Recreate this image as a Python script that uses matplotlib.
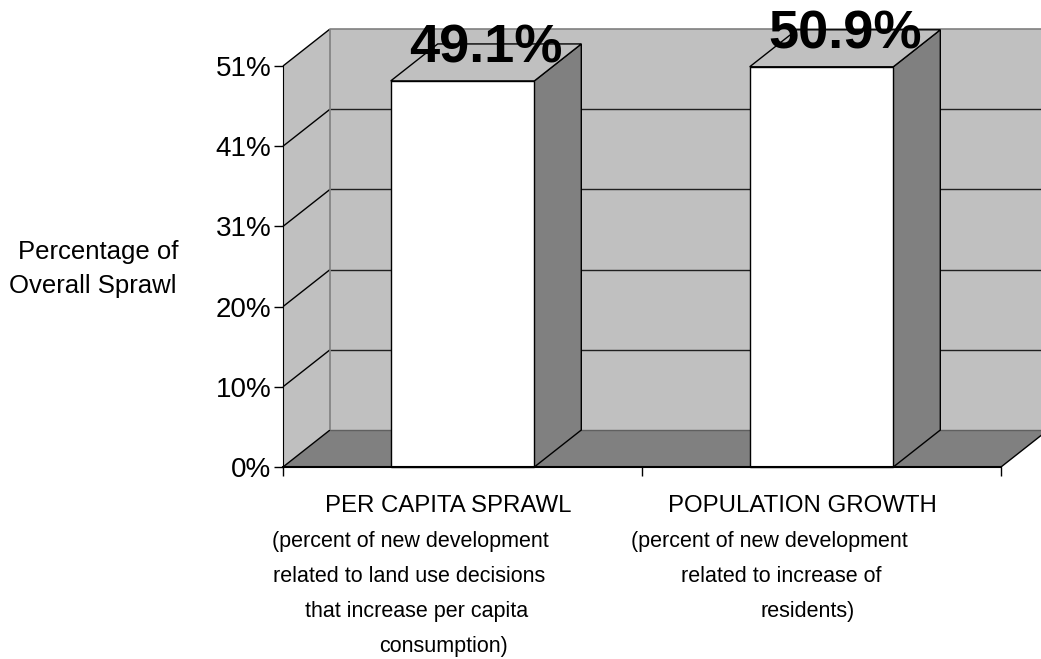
import matplotlib
matplotlib.use("Agg")
import matplotlib.pyplot as plt
from matplotlib.patches import Polygon, Rectangle
from matplotlib import font_manager

# ---- chart data -------------------------------------------------------------
categories = ["PER CAPITA SPRAWL", "POPULATION GROWTH"]
category_notes = [
    ["(percent of new development", "related to land use decisions",
     "that increase per capita", "consumption)"],
    ["(percent of new development", "related to increase of", "residents)"],
]
shares = [0.491, 0.509]
value_labels = ["49.1%", "50.9%"]
y_ticks = [0.0, 0.102, 0.204, 0.306, 0.408, 0.51]
y_tick_labels = ["0%", "10%", "20%", "31%", "41%", "51%"]
y_title_lines = ["Percentage of", "Overall Sprawl"]

# ---- fonts --------------------------------------------------------------------
installed = {f.name for f in font_manager.fontManager.ttflist}
plt.rcParams["font.family"] = ["Liberation Sans", "DejaVu Sans"]
if "Liberation Sans Narrow" in installed:
    note_font = dict(family=["Liberation Sans Narrow", "Liberation Sans"], fontsize=17)
else:
    note_font = dict(family=["Liberation Sans", "DejaVu Sans"], fontsize=15.5)

# ---- colours ------------------------------------------------------------------
WALL = "#c0c0c0"
FLOOR = "#808080"
EDGE = "#808080"

W, H = 1041, 659
fig = plt.figure(figsize=(W / 100, H / 100), dpi=100)
fig.patch.set_facecolor("white")


def fpos(x, y):
    """Pixel position (origin top-left) to figure fraction."""
    return x / W, 1 - y / H


ax = fig.add_axes([283 / W, 1 - 467 / H, (1001 - 283) / W, (467 - 66) / H])
n = len(categories)
ymax = y_ticks[-1]
ax.set_xlim(0, n)
ax.set_ylim(0, ymax)
ax.patch.set_visible(False)

# depth of the 3-D box expressed in data units (47 px right, 37 px up)
p0 = ax.transData.transform((0, 0))
DX, DY = ax.transData.inverted().transform((p0[0] + 47, p0[1] + 37))


def poly(pts, fc, ec="black", lw=1.0, z=1):
    ax.add_patch(Polygon(pts, closed=True, facecolor=fc, edgecolor=ec,
                         linewidth=lw, zorder=z, clip_on=False,
                         joinstyle="miter"))


def seg(p, q, color="black", lw=1.0, z=1.5):
    ax.plot([p[0], q[0]], [p[1], q[1]], color=color, lw=lw, zorder=z,
            clip_on=False, solid_capstyle="butt")


# back wall, side wall and floor
ax.add_patch(Rectangle((DX, DY), n, ymax, facecolor=WALL, edgecolor="none",
                       zorder=1, clip_on=False))
poly([(0, 0), (0, ymax), (DX, ymax + DY), (DX, DY)], WALL, ec="none")
poly([(0, 0), (n, 0), (n + DX, DY), (DX, DY)], FLOOR, ec="none")

# gridlines on the walls
for t in y_ticks[1:-1]:
    seg((DX, t + DY), (n + DX, t + DY), color="#202020", lw=1.0)
for t in y_ticks:
    seg((0, t), (DX, t + DY), color="black", lw=1.0)
seg((DX, ymax + DY), (n + DX, ymax + DY), color=EDGE, lw=1.2)
seg((DX, DY), (DX, ymax + DY), color=EDGE, lw=1.2)
seg((DX, DY), (n + DX, DY), color="#606060", lw=1.0)
seg((n, 0), (n + DX, DY), color="black", lw=1.0)

# 3-D columns: side, top, then front face
bar_w = 0.4
for i, v in enumerate(shares):
    c = i + 0.5
    l, r = c - bar_w / 2, c + bar_w / 2
    poly([(r, 0), (r, v), (r + DX, v + DY), (r + DX, DY)], FLOOR, z=2)
    poly([(l, v), (r, v), (r + DX, v + DY), (l + DX, v + DY)], WALL, z=2)
    ax.bar(c, v, width=bar_w, color="white", edgecolor="black",
           linewidth=1.0, zorder=2, clip_on=False)
    ax.text(c + DX / 2, v + DY / 2, value_labels[i], ha="center",
            va="baseline", fontsize=39, fontweight="bold", zorder=5,
            clip_on=False)

# axes
for side in ("top", "right"):
    ax.spines[side].set_visible(False)
ax.spines["left"].set_color("black")
ax.spines["bottom"].set_color("black")
ax.spines["bottom"].set_linewidth(1.5)
ax.spines["left"].set_zorder(3)
ax.spines["bottom"].set_zorder(3)
ax.set_yticks(y_ticks)
ax.set_yticklabels(y_tick_labels, fontsize=20)
ax.set_xticks(range(n + 1))
ax.set_xticklabels([""] * (n + 1))
ax.tick_params(axis="both", direction="out", length=6.5, width=1.0,
               color="black", pad=2)

# y-axis title
fig.text(*fpos(98, 259), y_title_lines[0], ha="center", va="baseline", fontsize=18.5)
fig.text(*fpos(93, 293), y_title_lines[1], ha="center", va="baseline", fontsize=18.5)

# category labels under the axis
title_centres = [448, 802]
note_centres = [[410, 409, 417, 443], [769, 781, 808]]
for i, name in enumerate(categories):
    fig.text(*fpos(title_centres[i], 512), name, ha="center",
             va="baseline", fontsize=17.3)
    for k, line in enumerate(category_notes[i]):
        fig.text(*fpos(note_centres[i][k], 547 + 35 * k), line, ha="center",
                 va="baseline", **note_font)

fig.savefig("out.png", dpi=100, facecolor="white")
